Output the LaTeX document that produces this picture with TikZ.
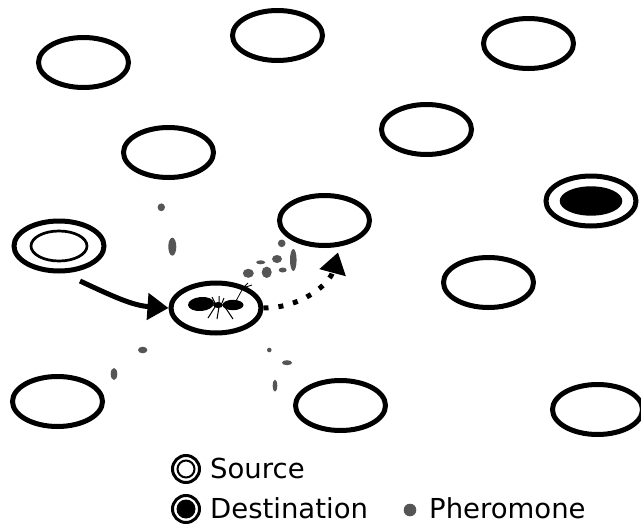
\documentclass[tikz,border=0pt]{standalone}
\usepackage{fontspec}
\setmainfont{DejaVu Sans}
\usepackage{tikz}
\usetikzlibrary{arrows.meta,shapes.geometric}
\definecolor{grisferomona}{RGB}{85,85,85}

\begin{document}
\begin{tikzpicture}[x=1pt, y=1pt,
    hueco/.style={draw, ellipse, line width=5pt, minimum width=90pt, minimum height=50pt, inner sep=0pt},
    flecha/.style={-{Triangle[length=21pt,width=26pt]}, line width=5pt},
    flechapuntos/.style={flecha, dash pattern=on 5pt off 10pt},
    leyenda/.style={anchor=base west, inner sep=0pt, font=\fontsize{27.5}{33}\selectfont}]
    \useasboundingbox (0,0) rectangle (641,-525);
    % nodos libres
    \node[hueco] (n1) at (83.5,-62.5) {};
    \node[hueco] (n2) at (277.5,-35.5) {};
    \node[hueco] (n3) at (528.5,-43.5) {};
    \node[hueco] (n4) at (168.5,-152.5) {};
    \node[hueco] (n5) at (426.5,-129.5) {};
    \node[hueco] (n7) at (324.5,-220.5) {};
    \node[hueco] (n10) at (488.5,-282.5) {};
    \node[hueco] (n11) at (57.5,-401.5) {};
    \node[hueco] (n12) at (340.5,-405.5) {};
    \node[hueco] (n13) at (597.5,-409.5) {};
    % origen (doble) y destino (relleno)
    \node[hueco] (src) at (59,-246) {}; \draw[line width=2.7pt] (src.center) ellipse (28 and 15);
    \node[hueco] (dst) at (591,-201) {}; \fill (dst.center) ellipse (31.3 and 14.7);
    % nodo con la hormiga
    \node[hueco] (hormiga) at (216,-308) {};
    \fill[rotate around={5:(201,-304)}] (201,-304) ellipse (13 and 7);
    \fill (218,-305) ellipse (5 and 3); \fill (233,-305) ellipse (10.5 and 5.2);
    \draw[line width=1pt] (215,-307)--(208,-318) (219,-307)--(217,-319) (225,-307)--(233,-319)
        (215,-303)--(212,-297) (219,-303)--(219,-296) (222,-303)--(224,-298);
    \draw[line width=0.8pt] (236,-301)--(243,-288)--(248,-283) (243,-288)--(252,-285);
    % feromonas
    \fill[grisferomona] (161.3,-207.3) ellipse (3.7 and 3.9); \fill[grisferomona] (172.3,-246.7) ellipse (4 and 9);
    \fill[grisferomona] (281.7,-243.3) ellipse (3.8 and 3.8); \fill[grisferomona] (260.7,-262.3) ellipse (4.5 and 2);
    \fill[grisferomona] (277,-259) ellipse (5 and 4); \fill[grisferomona] (293.3,-260) ellipse (3.3 and 11);
    \fill[grisferomona] (248.3,-273.3) ellipse (5.5 and 4.5); \fill[grisferomona] (266.7,-272.3) ellipse (5 and 5.7);
    \fill[grisferomona] (282.7,-270) ellipse (4 and 2.5);
    \fill[grisferomona] (142.7,-350) ellipse (4.7 and 3.3); \fill[grisferomona] (114,-374) ellipse (3.3 and 6);
    \fill[grisferomona] (269.3,-350) ellipse (2.3 and 2.3); \fill[grisferomona] (287,-362.7) ellipse (5 and 2.5);
    \fill[grisferomona] (275,-385.7) ellipse (2.3 and 6);
    % camino recorrido y siguiente paso
    \coordinate (salida) at (80,-281);
    \draw[flecha] (salida) to[out=-25, in=176] (hormiga.west);
    \draw[flechapuntos, shorten >=6pt] (hormiga.east) to[out=0, in=-105] (n7.-60);
    % leyenda
    \draw[line width=3pt] (186,-469) circle (13.5); \draw[line width=2pt] (186,-469) circle (8.5);
    \node[leyenda] (txtsrc) at (210,-478) {Source};
    \draw[line width=3pt] (186,-509) circle (13.5); \fill (186,-509) circle (9.5);
    \node[leyenda] (txtdst) at (210,-518) {Destination};
    \fill[grisferomona] (410,-510) circle (6.3);
    \node[leyenda] (txtfer) at (429,-518) {Pheromone};
\end{tikzpicture}
\end{document}
